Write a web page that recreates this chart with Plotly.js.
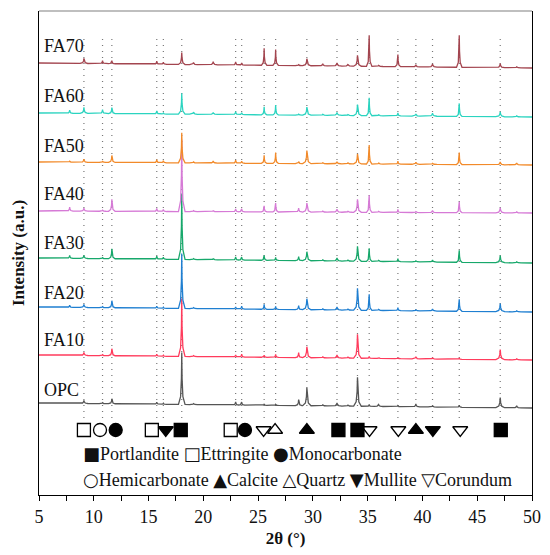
<!DOCTYPE html>
<html>
<head>
<meta charset="utf-8">
<script src="https://cdn.plot.ly/plotly-3.0.1.min.js"></script>
<style>html,body{margin:0;padding:0;background:#fff;}#chart{width:550px;height:555px;}</style>
</head>
<body>
<div id="chart"></div>
<script>
// ---- data ----
const seriesNames = ["OPC", "FA10", "FA20", "FA30", "FA40", "FA50", "FA60", "FA70"];
const seriesColors = ["#555555", "#ff3b5c", "#1f7fd1", "#17a86b", "#d67ad6", "#f28a2a", "#2bd4c0", "#a3454f"];
// baseline level at 2θ = 5 and 2θ = 50 (a.u., offset stacked)
const baseLeft  = [92, 140, 188, 237, 284, 333, 382, 432];
const baseRight = [87, 135, 183, 232, 282, 330, 378, 427];
// peak positions (2θ, °) and widths
const peakPos   = [7.8, 9.1, 10.8, 11.65, 15.75, 16.35, 18.03, 19.1, 20.9, 22.95, 23.5, 25.55, 26.6, 28.7, 29.45, 30.9, 32.2, 33.2, 34.07, 35.14, 36.0, 37.76, 39.4, 40.92, 43.36, 47.1, 48.6];
const peakWidth = [0.3, 0.35, 0.3, 0.3, 0.3, 0.3, 0.3, 0.35, 0.4, 0.3, 0.28, 0.25, 0.25, 0.3, 0.38, 0.4, 0.45, 0.4, 0.35, 0.25, 0.4, 0.25, 0.35, 0.4, 0.25, 0.4, 0.4];
// peak heights per series (a.u.)
const hOPC  = [0, 3, 1, 5, 2, 1, 52, 1, 0, 3, 3, 1, 1, 6, 18, 1, 3, 1, 29, 2, 2, 1, 3, 1, 2, 10, 2];
const hFA10 = [0, 3, 1, 7, 2, 1, 58, 1, 0, 2, 3, 2, 3, 5, 11, 1, 3, 1, 24, 2, 1, 1, 2, 1, 1, 10, 1];
const hFA20 = [2, 3, 1, 7, 2, 1, 55, 1, 0, 2, 3, 5, 3, 4, 11, 1, 3, 1, 22, 16, 1, 3, 1, 2, 12, 8, 1];
const hFA30 = [3, 3, 1, 10, 3, 2, 66, 1, 1, 3, 3, 5, 3, 4, 9, 1, 3, 1, 15, 13, 1, 3, 1, 2, 12, 7, 1];
const hFA40 = [4, 3, 1, 12, 3, 2, 72, 1, 1, 3, 3, 6, 9, 4, 9, 1, 3, 1, 13, 17, 1, 3, 1, 2, 11, 5, 1];
const hFA50 = [1, 3, 1, 7, 3, 2, 30, 1, 2, 3, 2, 8, 11, 2, 13, 1, 2, 1, 10, 19, 1, 3, 2, 1, 12, 3, 2];
const hFA60 = [3, 6, 4, 6, 3, 1, 21, 2, 2, 3, 2, 8, 10, 1, 8, 1, 3, 1, 11, 18, 1, 3, 2, 3, 13, 5, 1];
const hFA70 = [0, 5, 3, 3, 3, 2, 12, 2, 3, 3, 2, 17, 16, 1, 7, 2, 3, 2, 11, 31, 1, 12, 2, 3, 32, 4, 1];
const seriesHeights = [hOPC, hFA10, hFA20, hFA30, hFA40, hFA50, hFA60, hFA70];
// label positions (a.u.) for each pattern
const labelY = [105, 155, 202, 252, 301, 349, 399, 449];
// reference (dotted) lines
const refLines = [9.1, 10.8, 11.65, 15.75, 16.35, 18.03, 22.95, 23.5, 25.55, 26.6, 29.45, 32.2, 34.07, 35.14, 37.76, 39.4, 40.92, 43.36, 47.1];
// phase markers
const markX = [9.1, 10.57, 12.0, 15.3, 16.57, 17.94, 22.5, 23.8, 25.5, 26.55, 29.45, 32.33, 34.07, 35.17, 37.8, 39.4, 40.95, 43.45, 47.15];
const markSym = ["square-open", "circle-open", "circle", "square-open", "triangle-down", "square", "square-open", "circle", "triangle-down-open", "triangle-up-open", "triangle-up", "square", "square", "triangle-down-open", "triangle-down-open", "triangle-up", "triangle-down", "triangle-down-open", "square"];
const markLevel = 65;
const legendRow1 = [["■", "Portlandite"], ["□", "Ettringite"], ["●", "Monocarbonate"]];
const legendRow2 = [["○", "Hemicarbonate"], ["▲", "Calcite"], ["△", "Quartz"], ["▼", "Mullite"], ["▽", "Corundum"]];
const xTickVals = [5, 10, 15, 20, 25, 30, 35, 40, 45, 50];

// ---- build traces ----
const FONT = "'Liberation Serif', 'Times New Roman', serif";
function baseAt(i, x) { return baseLeft[i] + (baseRight[i] - baseLeft[i]) * (x - 5) / 45; }
const traces = [];
seriesNames.forEach((name, i) => {
  const xs = [5], ys = [baseLeft[i]];
  const h = seriesHeights[i];
  peakPos.forEach((p, k) => {
    const w = peakWidth[k];
    const pts = [[p - w, 0], [p - w * 0.35, 0.15], [p - w * 0.1, 0.5], [p, 1], [p + w * 0.1, 0.5], [p + w * 0.35, 0.15], [p + w, 0]];
    pts.forEach(([x, f]) => { xs.push(x); ys.push(baseAt(i, x) + f * h[k]); });
  });
  xs.push(50); ys.push(baseRight[i]);
  traces.push({x: xs, y: ys, type: 'scatter', mode: 'lines', name: name,
    line: {color: seriesColors[i], width: 1.3}, hoverinfo: 'skip'});
});
traces.push({x: markX, y: markX.map(() => markLevel), type: 'scatter', mode: 'markers',
  marker: {symbol: markSym, size: 13, color: '#000', line: {color: '#000', width: 1.3}}, hoverinfo: 'skip'});

const shapes = refLines.map(x => ({type: 'line', xref: 'x', yref: 'y', x0: x, x1: x, y0: 77, y1: 460,
  line: {color: '#777', width: 1.2, dash: '1px,5px'}, layer: 'below'}));
shapes.push({type: 'line', xref: 'paper', yref: 'paper', x0: 0, x1: 1, y0: 1, y1: 1, line: {color: '#aaa', width: 1.5}});

function legendText(row) {
  return row.map(([s, t]) => '<span style="font-family:DejaVu Sans;font-size:18px">' + s + '</span>' + t).join(' ');
}
const annotations = seriesNames.map((n, i) => ({xref: 'x', yref: 'y', x: 5.25, y: labelY[i], text: n,
  showarrow: false, xanchor: 'left', yanchor: 'middle', font: {family: FONT, size: 18, color: '#111'}}));
annotations.push({xref: 'x', yref: 'y', x: 8.85, y: 42, text: legendText(legendRow1), showarrow: false, xanchor: 'left', yanchor: 'middle', font: {family: FONT, size: 18, color: '#111'}});
annotations.push({xref: 'x', yref: 'y', x: 8.85, y: 16, text: legendText(legendRow2), showarrow: false, xanchor: 'left', yanchor: 'middle', font: {family: FONT, size: 18, color: '#111'}});

const layout = {
  width: 550, height: 555,
  margin: {l: 39, r: 18, t: 11, b: 60},
  paper_bgcolor: '#fff', plot_bgcolor: '#fff',
  font: {family: FONT, size: 18, color: '#111'},
  showlegend: false,
  xaxis: {range: [5, 50], tickvals: xTickVals, ticks: 'outside', ticklen: 5, tickwidth: 1, tickcolor: '#000',
    showline: true, linecolor: '#000', linewidth: 1.2, showgrid: false, zeroline: false,
    minor: {dtick: 2.5, tick0: 5, ticks: 'outside', ticklen: 5, tickcolor: '#000', showgrid: false},
    tickfont: {family: FONT, size: 18, color: '#111'},
    title: {text: '<b>2θ (°)</b>', font: {family: FONT, size: 17, color: '#111', weight: 'bold'}, standoff: 6}},
  yaxis: {range: [0, 484], showticklabels: false, ticks: '', showgrid: false, zeroline: false,
    showline: true, linecolor: '#000', linewidth: 1.2, mirror: true,
    title: {text: '<b>Intensity (a.u.)</b>', font: {family: FONT, size: 17, color: '#111', weight: 'bold'}, standoff: 8}},
  shapes: shapes,
  annotations: annotations
};
Plotly.newPlot('chart', traces, layout, {displayModeBar: false, staticPlot: true});
</script>
</body>
</html>
